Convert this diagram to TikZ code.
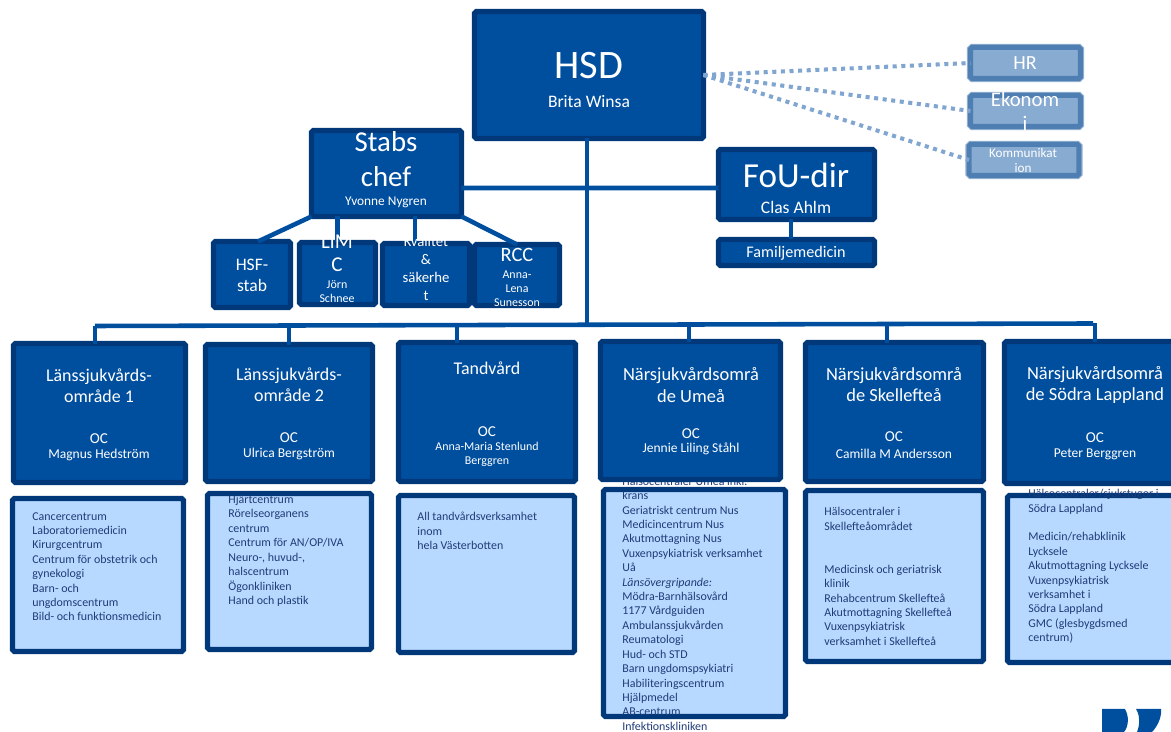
\documentclass[tikz,border=0pt]{standalone}
\usepackage{fontspec}
\setmainfont{Carlito}
\usetikzlibrary{calc}
\definecolor{hsdblue}{HTML}{004F9F}
\definecolor{hsdedge}{HTML}{00387A}
\definecolor{staffblue}{HTML}{88ABD2}
\definecolor{staffedge}{HTML}{4F7EB2}
\definecolor{staffhalo}{HTML}{8FAFCF}
\definecolor{staffdot}{HTML}{7FA5D0}
\definecolor{listblue}{HTML}{B8D9FF}
\definecolor{listtext}{HTML}{1F3B78}
\tikzstyle{orgbox} = [
    rectangle,
    rounded corners=1pt,
    outer sep=0pt,
    line width=3pt,
    draw = hsdedge,
    fill = hsdblue
]
\tikzstyle{staffbox} = [
    rectangle,
    rounded corners=1pt,
    outer sep=0pt,
    line width=2.85pt,
    draw = staffedge,
    fill = staffblue,
    preaction = {draw=staffhalo, line width=4.2pt}
]
\tikzstyle{listbox} = [
    rectangle,
    rounded corners=1pt,
    outer sep=0pt,
    line width=3pt,
    draw = hsdedge,
    fill = listblue
]
\tikzstyle{whitetext} = [
    inner sep=0pt,
    align=center,
    text=white
]
\tikzstyle{listitems} = [
    anchor=north west,
    inner sep=0pt,
    align=left,
    text=listtext,
    font=\fontsize{6.8}{8.2}\selectfont
]
\tikzstyle{link} = [
    line width=2.6pt,
    draw=hsdblue
]
\tikzstyle{dotlink} = [
    line width=2.3pt,
    draw=staffdot,
    dash pattern=on 2.3pt off 2.6pt
]

\begin{document}
\begin{tikzpicture}[x=0.02cm, y=-0.02cm]
        \useasboundingbox (0,0) rectangle (1171,732);

        %% Lists
        \node (list1) [listbox, minimum width=3.42cm, minimum height=3.06cm] at (98,575) {};
        \node (list2) [listbox, minimum width=3.28cm, minimum height=3.12cm] at (289.5,571.5) {};
        \node (list3) [listbox, minimum width=3.52cm, minimum height=3.14cm] at (486.5,574) {};
        \node (list4) [listbox, minimum width=3.64cm, minimum height=4.54cm] at (694.5,603) {};
        \node (list5) [listbox, minimum width=3.56cm, minimum height=3.42cm] at (894.5,576) {};
        \node (list6) [listbox, minimum width=3.6cm, minimum height=3.34cm] at (1097.5,579) {};

        \node (list1text) [listitems] at (32,512) {Cancercentrum\\Laboratoriemedicin\\Kirurgcentrum\\Centrum för obstetrik och\\gynekologi\\Barn- och\\ungdomscentrum\\Bild- och funktionsmedicin};
        \node (list2text) [listitems] at (228,495) {Hjärtcentrum\\Rörelseorganens\\centrum\\Centrum för AN/OP/IVA\\Neuro-, huvud-,\\halscentrum\\Ögonkliniken\\Hand och plastik};
        \node (list3text) [listitems] at (417,512) {All tandvårdsverksamhet\\inom\\hela Västerbotten};
        \node (list4text) [listitems] at (622,476.5) {Hälsocentraler Umeå inkl.\\krans\\Geriatriskt centrum Nus\\Medicincentrum Nus\\Akutmottagning Nus\\Vuxenpsykiatrisk verksamhet\\Uå\\\textit{Länsövergripande:}\\Mödra-Barnhälsovård\\1177 Vårdguiden\\Ambulanssjukvården\\Reumatologi\\Hud- och STD\\Barn ungdomspsykiatri\\Habiliteringscentrum\\Hjälpmedel\\AB-centrum\\Infektionskliniken};
        \node (list5text) [listitems] at (824,507) {Hälsocentraler i\\Skellefteåområdet\\[16.4pt]Medicinsk och geriatrisk\\klinik\\Rehabcentrum Skellefteå\\Akutmottagning Skellefteå\\Vuxenpsykiatrisk\\verksamhet i Skellefteå};
        \node (list6text) [listitems] at (1028,489) {Hälsocentraler/sjukstugor i\\Södra Lappland\\[8.2pt]Medicin/rehabklinik\\Lycksele\\Akutmottagning Lycksele\\Vuxenpsykiatrisk\\verksamhet i\\Södra Lappland\\GMC (glesbygdsmed\\centrum)};

        %% Top boxes
        \node (hsd) [orgbox, minimum width=4.58cm, minimum height=2.54cm] at (589,75) {};
        \node (stabs) [orgbox, minimum width=3cm, minimum height=1.72cm] at (386.5,173.5) {};
        \node (hsf) [orgbox, minimum width=1.54cm, minimum height=1.32cm] at (252,274.5) {};
        \node (lim) [orgbox, minimum width=1.52cm, minimum height=1.24cm] at (337.5,273.5) {};
        \node (kvalitet) [orgbox, minimum width=1.74cm, minimum height=1.24cm] at (426,274.5) {};
        \node (rcc) [orgbox, minimum width=1.7cm, minimum height=1.22cm] at (517,275) {};
        \node (fou) [orgbox, minimum width=3.12cm, minimum height=1.4cm] at (796.5,184.5) {};
        \node (familj) [orgbox, minimum width=3.12cm, minimum height=0.52cm] at (796.5,252.5) {};
        \node (hr) [staffbox, minimum width=2.2cm, minimum height=0.62cm] at (1025.5,63) {};
        \node (ekonomi) [staffbox, minimum width=2.2cm, minimum height=0.62cm] at (1025.5,111) {};
        \node (komm) [staffbox, minimum width=2.2cm, minimum height=0.62cm] at (1024,160) {};

        %% Areas
        \node (lans1) [orgbox, minimum width=3.44cm, minimum height=2.78cm] at (99.5,413) {};
        \node (lans2) [orgbox, minimum width=3.34cm, minimum height=2.74cm] at (289,413) {};
        \node (tand) [orgbox, minimum width=3.54cm, minimum height=2.78cm] at (487,412) {};
        \node (umea) [orgbox, minimum width=3.6cm, minimum height=2.76cm] at (690.5,410.5) {};
        \node (skelle) [orgbox, minimum width=3.56cm, minimum height=2.78cm] at (894.5,412) {};
        \node (sodra) [orgbox, minimum width=3.62cm, minimum height=2.84cm] at (1095,412.5) {};

        %% Connectors
        \coordinate (busleft) at (95,326);
        \coordinate (busright) at (1093,323.5);
        \draw[link] (busleft) -- (busright);
        \draw[link] ([xshift=-0.04cm]hsd.south) -- ([xshift=-0.04cm]hsd.south |- busleft);
        \draw[link] ([yshift=-0.29cm]stabs.east) -- ([yshift=-0.07cm]fou.west);
        \draw[link] (stabs.south west) -- ([xshift=0.12cm]hsf.north);
        \draw[link] (lim.north |- stabs.south) -- (lim.north);
        \draw[link] ([xshift=-0.22cm]kvalitet.north |- stabs.south) -- ([xshift=-0.22cm]kvalitet.north);
        \draw[link] (stabs.south east) -- (rcc.north);
        \draw[link] ([xshift=-0.11cm]fou.south) -- ([xshift=-0.11cm]familj.north);
        \draw[link] ([xshift=-0.09cm]lans1.north) -- ([xshift=-0.09cm]lans1.north |- busleft);
        \draw[link] (lans2.north) -- (lans2.north |- busleft);
        \draw[link] ([xshift=-0.6cm]tand.north) -- ([xshift=-0.6cm]tand.north |- busleft);
        \draw[link] ([xshift=-0.03cm]umea.north) -- ([xshift=-0.03cm]umea.north |- busright);
        \draw[link] ([xshift=-0.15cm]skelle.north) -- ([xshift=-0.15cm]skelle.north |- busright);
        \draw[link] (sodra.north) -- (sodra.north |- busright);
        \draw[dotlink] (hsd.east) -- (hr.west);
        \draw[dotlink] (hsd.east) -- (ekonomi.west);
        \draw[dotlink] (hsd.east) -- (komm.west);

        %% Texts
        \node (hsdtitle) [whitetext, font=\fontsize{23}{27}\selectfont] at (589,66) {HSD};
        \node (hsdname) [whitetext, font=\fontsize{10}{12}\selectfont] at (589,102) {Brita Winsa};
        \node (stabstitle) [whitetext, font=\fontsize{16.4}{20}\selectfont] at (386,159.5) {Stabs\\chef};
        \node (stabsname) [whitetext, font=\fontsize{7.6}{9}\selectfont] at (386,202.5) {Yvonne Nygren};
        \node (hsftitle) [whitetext, font=\fontsize{10}{12}\selectfont] at (252,275) {HSF-\\stab};
        \node (limtitle) [whitetext, font=\fontsize{12}{13}\selectfont] at (337,253) {LiM\\C};
        \node (limname) [whitetext, font=\fontsize{6.8}{8}\selectfont] at (337,292) {Jörn\\Schnee};
        \node (kvalitettitle) [whitetext, font=\fontsize{8.4}{10.2}\selectfont] at (426,268.5) {Kvalitet\\\&\\säkerhe\\t};
        \node (rcctitle) [whitetext, font=\fontsize{11.6}{13}\selectfont] at (517,255) {RCC};
        \node (rccname) [whitetext, font=\fontsize{6.8}{8}\selectfont] at (517,289) {Anna-\\Lena\\Sunesson};
        \node (foutitle) [whitetext, font=\fontsize{20}{24}\selectfont] at (796,175) {FoU-dir};
        \node (founame) [whitetext, font=\fontsize{10}{12}\selectfont] at (796,207) {Clas Ahlm};
        \node (familjtitle) [whitetext, font=\fontsize{9.2}{11}\selectfont] at (796,253) {Familjemedicin};
        \node (hrtitle) [whitetext, font=\fontsize{11.4}{13}\selectfont] at (1025,63.5) {HR};
        \node (ekonomititle) [whitetext, font=\fontsize{11.8}{13.7}\selectfont] at (1025,111) {Ekonom\\i};
        \node (kommtitle) [whitetext, font=\fontsize{7.5}{8.8}\selectfont] at (1023,160.5) {Kommunikat\\ion};

        \node (lans1title) [whitetext, font=\fontsize{10.2}{12}\selectfont] at (99,386) {Länssjukvårds-\\område 1};
        \node (lans1oc) [whitetext, font=\fontsize{8.6}{10}\selectfont] at (99,438.5) {OC};
        \node (lans1name) [whitetext, font=\fontsize{7.7}{9}\selectfont] at (99,455) {Magnus Hedström};
        \node (lans2title) [whitetext, font=\fontsize{10.2}{12}\selectfont] at (289,385) {Länssjukvårds-\\område 2};
        \node (lans2oc) [whitetext, font=\fontsize{8.6}{10}\selectfont] at (289,437.5) {OC};
        \node (lans2name) [whitetext, font=\fontsize{7.7}{9}\selectfont] at (289,454) {Ulrica Bergström};
        \node (tandtitle) [whitetext, font=\fontsize{10.2}{12}\selectfont] at (487,368) {Tandvård};
        \node (tandoc) [whitetext, font=\fontsize{8.6}{10}\selectfont] at (487,431.5) {OC};
        \node (tandname) [whitetext, font=\fontsize{6.8}{8}\selectfont] at (487,454) {Anna-Maria Stenlund\\Berggren};
        \node (umeatitle) [whitetext, font=\fontsize{10.5}{12}\selectfont] at (691,385) {Närsjukvårdsområ\\de Umeå};
        \node (umeaoc) [whitetext, font=\fontsize{8.6}{10}\selectfont] at (691,433.5) {OC};
        \node (umeaname) [whitetext, font=\fontsize{7.7}{9}\selectfont] at (691,449) {Jennie Liling Ståhl};
        \node (skelletitle) [whitetext, font=\fontsize{10.5}{12}\selectfont] at (894,384.5) {Närsjukvårdsområ\\de Skellefteå};
        \node (skelleoc) [whitetext, font=\fontsize{8.6}{10}\selectfont] at (894,436.5) {OC};
        \node (skellename) [whitetext, font=\fontsize{7.7}{9}\selectfont] at (894,454) {Camilla M Andersson};
        \node (sodratitle) [whitetext, font=\fontsize{10.5}{12}\selectfont] at (1095,384.5) {Närsjukvårdsområ\\de Södra Lappland};
        \node (sodraoc) [whitetext, font=\fontsize{8.6}{10}\selectfont] at (1095,437.5) {OC};
        \node (sodraname) [whitetext, font=\fontsize{7.7}{9}\selectfont] at (1095,454) {Peter Berggren};

        %% Logo
        \fill[hsdblue] (1102,709) -- (1125,709) .. controls (1129,716) and (1129,726) .. (1124,732) -- (1102,732) -- cycle;
        \fill[hsdblue] (1136,709) -- (1161,709) .. controls (1162,716) and (1158,726) .. (1152,732) -- (1137,732) .. controls (1140,725) and (1140,715) .. (1136,709) -- cycle;

    \end{tikzpicture}
\end{document}
